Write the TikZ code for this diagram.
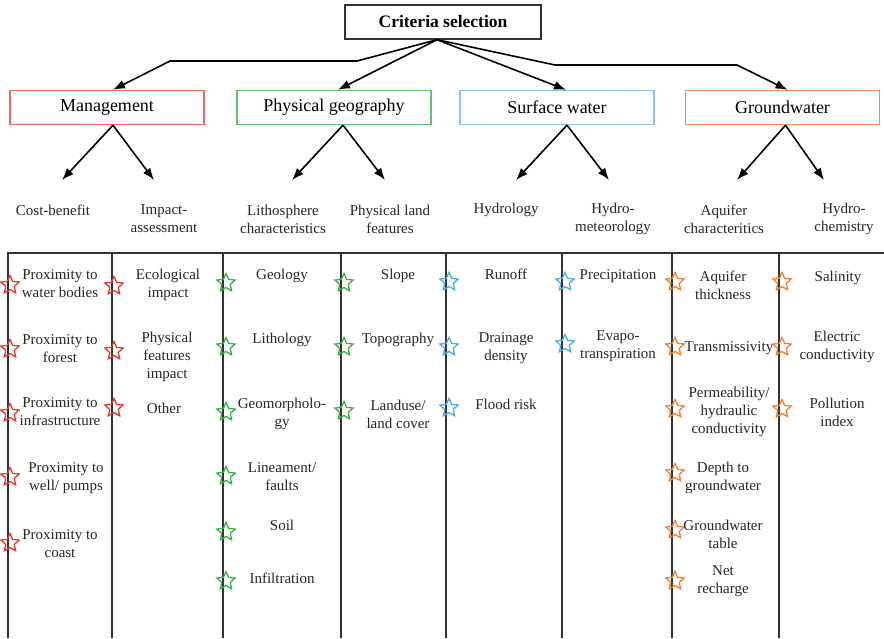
\documentclass[tikz,border=0pt]{standalone}
\usepackage{fontspec}
\setmainfont{Liberation Serif}
\usepackage{xcolor}
\usepackage{tikz}
\usetikzlibrary{arrows.meta,shapes.geometric,positioning}

\definecolor{mgmtline}{RGB}{240,104,96}
\definecolor{geoline}{RGB}{92,196,110}
\definecolor{surfline}{RGB}{135,198,234}
\definecolor{grndline}{RGB}{242,140,80}
\definecolor{mgmtstar}{RGB}{229,52,46}
\definecolor{geostar}{RGB}{52,178,72}
\definecolor{surfstar}{RGB}{80,170,226}
\definecolor{grndstar}{RGB}{245,125,45}

\begin{document}
\begin{tikzpicture}[x=1pt,y=-1pt]
                \tikzset{Head/.style={%
                    draw=black!80,%
                    line width=1.4pt,%
                    minimum width=196pt,%
                    minimum height=34pt,%
                    inner sep=0pt,%
                    font=\fontsize{17.5}{20}\selectfont\bfseries,%
                },
                Group/.style={%
                    draw=#1,%
                    line width=1.4pt,%
                    minimum width=194pt,%
                    minimum height=34pt,%
                    inner sep=0pt,%
                    font=\fontsize{18}{21}\selectfont,%
                },
                Label/.style={%
                    align=center,%
                    inner sep=1pt,%
                    text=black!85,%
                    font=\fontsize{15}{18}\selectfont,%
                },
                Tick/.style={%
                    star,%
                    star points=5,%
                    star point ratio=2.1,%
                    draw=#1,%
                    line width=1.3pt,%
                    minimum size=19pt,%
                    inner sep=0pt,%
                },
                Arrow/.style={-{Latex[length=12pt,width=9pt]}, line width=1.6pt},
                Rule/.style={draw=black!80, line width=1.8pt},
                }

                \useasboundingbox (0,0) rectangle (884,638);

                % top level
                \node[Head] (crit) at (443,22) {Criteria selection};
                \node[Group=mgmtline] (g1) at (107,107.5) {Management};
                \node[Group=geoline] (g2) at (334,107.5) {Physical geography};
                \node[Group=surfline] (g3) at (557,107.5) {Surface water};
                \node[Group=grndline] (g4) at (782.5,107.5) {Groundwater};

                \coordinate (top) at ([xshift=-6pt]crit.south);
                \coordinate (b11) at (357,61);
                \coordinate (b12) at (170,61);
                \coordinate (b41) at (555,65);
                \coordinate (b42) at (737,65);

                \draw[Arrow] (top) -- (b11) -- (b12) -- ([xshift=6pt]g1.north);
                \draw[Arrow] (top) -- ([xshift=4pt]g2.north);
                \draw[Arrow] (top) -- ([xshift=9pt]g3.north);
                \draw[Arrow] (top) -- (b41) -- (b42) -- ([xshift=5pt]g4.north);

                % second level
                \coordinate (e11) at (62,180);
                \coordinate (e12) at (154,180);
                \coordinate (e21) at (292,180);
                \coordinate (e22) at (385,180);
                \coordinate (e31) at (516,180);
                \coordinate (e32) at (609,180);
                \coordinate (e41) at (737,180);
                \coordinate (e42) at (824,180);

                \draw[Arrow] ([xshift=6pt]g1.south) -- (e11);
                \draw[Arrow] ([xshift=6pt]g1.south) -- (e12);
                \draw[Arrow] ([xshift=9pt]g2.south) -- (e21);
                \draw[Arrow] ([xshift=9pt]g2.south) -- (e22);
                \draw[Arrow] ([xshift=10pt]g3.south) -- (e31);
                \draw[Arrow] ([xshift=10pt]g3.south) -- (e32);
                \draw[Arrow] ([xshift=3pt]g4.south) -- (e41);
                \draw[Arrow] ([xshift=3pt]g4.south) -- (e42);

                \node[Label] (s1) at (53,210) {Cost-benefit};
                \node[Label] (s2) at (164,219) {Impact-\\assessment};
                \node[Label] (s3) at (283,219) {Lithosphere\\characteristics};
                \node[Label] (s4) at (390,219) {Physical land\\features};
                \node[Label] (s5) at (506,210) {Hydrology};
                \node[Label] (s6) at (613,219) {Hydro-\\meteorology};
                \node[Label] (s7) at (724,219) {Aquifer\\characteritics};
                \node[Label] (s8) at (844,219) {Hydro-\\chemistry};

                % table
                \draw[Rule] (884,253) -- (8,253) -- (8,638);
                \draw[Rule] (112,253) -- (112,638);
                \draw[Rule] (223,253) -- (223,638);
                \draw[Rule] (341,253) -- (341,638);
                \draw[Rule] (446,253) -- (446,638);
                \draw[Rule] (562,253) -- (562,638);
                \draw[Rule] (672,253) -- (672,638);
                \draw[Rule] (779,253) -- (779,638);

                % management
                \node[Tick=mgmtstar] (t11) at (10,285) {};
                \node[Tick=mgmtstar] (t12) at (10,349) {};
                \node[Tick=mgmtstar] (t13) at (10,413) {};
                \node[Tick=mgmtstar] (t14) at (10,477) {};
                \node[Tick=mgmtstar] (t15) at (10,543) {};
                \node[Label] (i11) at (60,284) {Proximity to\\water bodies};
                \node[Label] (i12) at (60,349) {Proximity to\\forest};
                \node[Label] (i13) at (60,412) {Proximity to\\infrastructure};
                \node[Label] (i14) at (66,478) {Proximity to\\well/ pumps};
                \node[Label] (i15) at (60,544) {Proximity to\\coast};

                \node[Tick=mgmtstar] (t21) at (114,286) {};
                \node[Tick=mgmtstar] (t22) at (114,351) {};
                \node[Tick=mgmtstar] (t23) at (114,408) {};
                \node[Label] (i21) at (168,285) {Ecological\\impact};
                \node[Label] (i22) at (167,357) {Physical\\features\\impact};
                \node[Label] (i23) at (164,408) {Other};

                % physical geography
                \node[Tick=geostar] (t31) at (226,283) {};
                \node[Tick=geostar] (t32) at (226,347) {};
                \node[Tick=geostar] (t33) at (226,412) {};
                \node[Tick=geostar] (t34) at (226,476) {};
                \node[Tick=geostar] (t35) at (226,532) {};
                \node[Tick=geostar] (t36) at (226,581) {};
                \node[Label] (i31) at (282,276) {Geology};
                \node[Label] (i32) at (282,340) {Lithology};
                \node[Label] (i33) at (282,414) {Geomorpholo-\\gy};
                \node[Label] (i34) at (282,477) {Lineament/\\faults};
                \node[Label] (i35) at (282,525) {Soil};
                \node[Label] (i36) at (282,578) {Infiltration};

                \node[Tick=geostar] (t41) at (344,283) {};
                \node[Tick=geostar] (t42) at (344,347) {};
                \node[Tick=geostar] (t43) at (344,411) {};
                \node[Label] (i41) at (398,276) {Slope};
                \node[Label] (i42) at (398,340) {Topography};
                \node[Label] (i43) at (398,414) {Landuse/\\land cover};

                % surface water
                \node[Tick=surfstar] (t51) at (449,282) {};
                \node[Tick=surfstar] (t52) at (449,347) {};
                \node[Tick=surfstar] (t53) at (449,408) {};
                \node[Label] (i51) at (506,274) {Runoff};
                \node[Label] (i52) at (506,348) {Drainage\\density};
                \node[Label] (i53) at (506,404) {Flood risk};

                \node[Tick=surfstar] (t61) at (565,282) {};
                \node[Tick=surfstar] (t62) at (565,344) {};
                \node[Label] (i61) at (618,276) {Precipitation};
                \node[Label] (i62) at (618,346) {Evapo-\\transpiration};

                % groundwater
                \node[Tick=grndstar] (t71) at (675,282) {};
                \node[Tick=grndstar] (t72) at (675,347) {};
                \node[Tick=grndstar] (t73) at (675,409) {};
                \node[Tick=grndstar] (t74) at (675,473) {};
                \node[Tick=grndstar] (t75) at (675,530) {};
                \node[Tick=grndstar] (t76) at (675,581) {};
                \node[Label] (i71) at (723,285) {Aquifer\\thickness};
                \node[Label] (i72) at (729,348) {Transmissivity};
                \node[Label] (i73) at (729,412) {Permeability/\\hydraulic\\conductivity};
                \node[Label] (i74) at (723,478) {Depth to\\groundwater};
                \node[Label] (i75) at (723,534) {Groundwater\\table};
                \node[Label] (i76) at (723,581) {Net\\recharge};

                \node[Tick=grndstar] (t81) at (782,282) {};
                \node[Tick=grndstar] (t82) at (782,347) {};
                \node[Tick=grndstar] (t83) at (782,409) {};
                \node[Label] (i81) at (838,278) {Salinity};
                \node[Label] (i82) at (837,347) {Electric\\conductivity};
                \node[Label] (i83) at (837,412) {Pollution\\index};
            \end{tikzpicture}
\end{document}
